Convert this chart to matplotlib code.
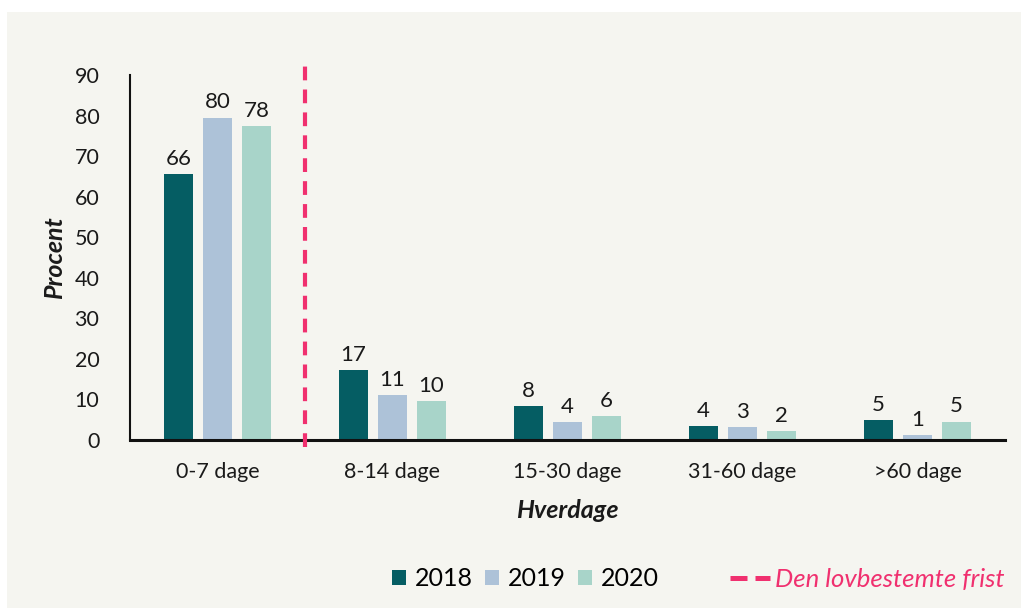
import matplotlib
matplotlib.use("Agg")
import matplotlib.pyplot as plt
from matplotlib.patches import Rectangle
from matplotlib.lines import Line2D
import numpy as np

categories = ["0-7 dage", "8-14 dage", "15-30 dage", "31-60 dage", ">60 dage"]
years = ["2018", "2019", "2020"]
values_2018 = [65.5, 17.3, 8.4, 3.5, 4.9]
values_2019 = [79.5, 11.1, 4.4, 3.2, 1.2]
values_2020 = [77.4, 9.6, 5.9, 2.2, 4.5]
labels_2018 = ["66", "17", "8", "4", "5"]
labels_2019 = ["80", "11", "4", "3", "1"]
labels_2020 = ["78", "10", "6", "2", "5"]
yticks = [0, 10, 20, 30, 40, 50, 60, 70, 80, 90]
deadline_label = "Den lovbestemte frist"

colors = ["#055d63", "#adc2d8", "#a8d4c9"]
pink = "#f0306f"
bg = "#f5f5f0"
font = "Lato"
plt.rcParams['font.family'] = [font, 'DejaVu Sans']

W, H = 1021, 608
fig = plt.figure(figsize=(W/100, H/100), dpi=100)
fig.patch.set_facecolor("white")
fig.patches.append(Rectangle((7/W, 0), 1 - 7/W, 1 - 12/H, transform=fig.transFigure,
                             facecolor=bg, edgecolor="none", zorder=-10))

ax = fig.add_axes([130/W, 1 - 440/H, 875/W, 365/H])
ax.set_facecolor("none")

x = np.arange(len(categories))
bw = 0.171
off = 0.223
series = [values_2018, values_2019, values_2020]
labs = [labels_2018, labels_2019, labels_2020]
handles = []
for i, (vals, lb) in enumerate(zip(series, labs)):
    bars = ax.bar(x + (i - 1) * off, vals, width=bw, color=colors[i], label=years[i], zorder=2)
    handles.append(bars)
    for b, t in zip(bars, lb):
        ax.text(b.get_x() + b.get_width()/2, b.get_height() + 1.3, t, ha="center", va="bottom",
                fontsize=16, color="#1a1a1a")

ax.axvline(0.5, ymin=-0.02, ymax=1.042, color=pink, lw=3, ls=(0, (3.3, 2.2)), clip_on=False, zorder=3)

ax.set_xlim(-0.5, 4.5)
ax.set_ylim(0, 90)
ax.set_yticks(yticks)
ax.set_xticks(x)
ax.set_xticklabels(categories, fontsize=15.5, color="#1a1a1a")
ax.tick_params(axis="y", length=0, pad=22, labelsize=15.5, labelcolor="#1a1a1a")
ax.tick_params(axis="x", length=0, pad=16)
for s in ["top", "right"]:
    ax.spines[s].set_visible(False)
ax.spines["left"].set_linewidth(1.5)
ax.spines["bottom"].set_linewidth(2.2)
ax.spines["left"].set_color("#111111")
ax.spines["bottom"].set_color("#111111")

ax.set_ylabel("Procent", fontsize=18, fontweight="bold", fontstyle="italic", labelpad=6, color="#1a1a1a")
ax.set_xlabel("Hverdage", fontsize=18, fontweight="bold", fontstyle="italic", labelpad=12, color="#1a1a1a")

leg1 = fig.legend(handles=handles, labels=years, loc="center left", bbox_to_anchor=(392/W, 1 - 579/H),
                  ncol=3, frameon=False, fontsize=18, handlelength=0.55, handleheight=0.55,
                  handletextpad=0.35, columnspacing=0.5, borderaxespad=0, borderpad=0)
line_h = Line2D([], [], color=pink, lw=3.6, ls=(0, (3.4, 1.6)))
leg2 = fig.legend(handles=[line_h], labels=[deadline_label], loc="center left",
                  bbox_to_anchor=(730/W, 1 - 579/H), frameon=False, fontsize=18.5,
                  handlelength=1.55, handletextpad=0.2, borderaxespad=0, borderpad=0)
for t in leg2.get_texts():
    t.set_color(pink)
    t.set_fontstyle("italic")

fig.savefig("out.png", dpi=100, facecolor=fig.get_facecolor())
